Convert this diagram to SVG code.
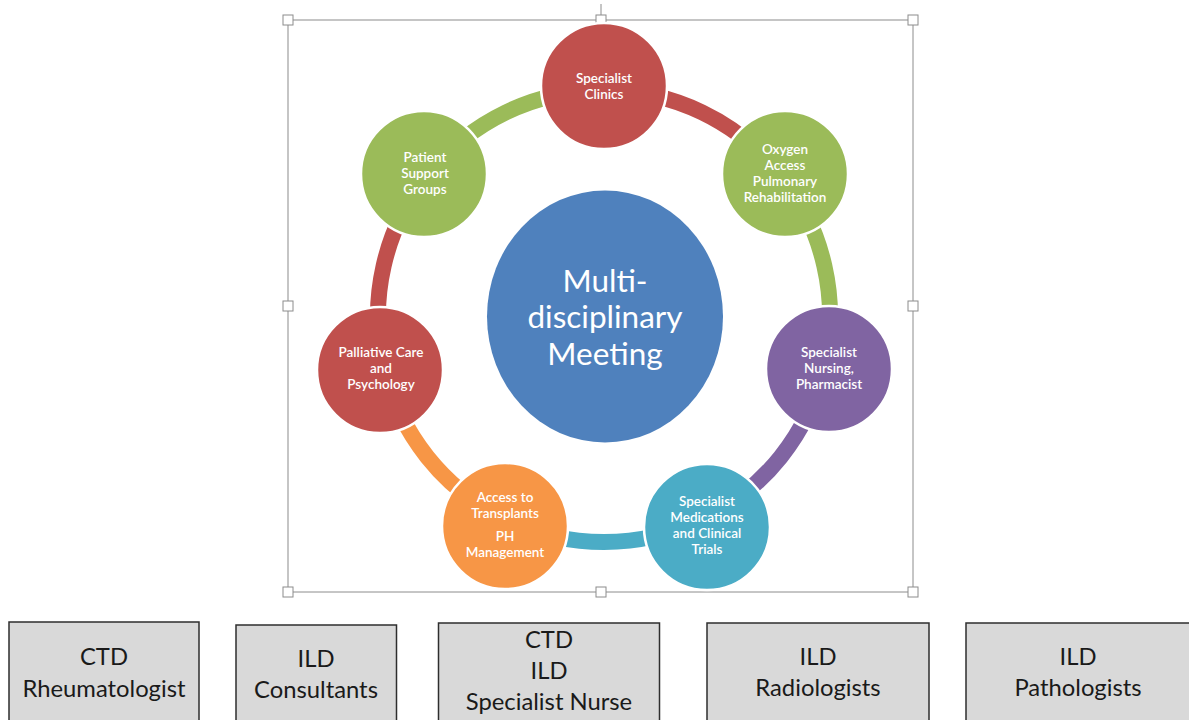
<svg xmlns="http://www.w3.org/2000/svg" width="1189" height="720" viewBox="0 0 1189 720">
<style>
.arc{fill:none;stroke-width:16;stroke-linecap:butt}
.node{stroke:#ffffff;stroke-width:2.5}
.nt{font-family:Lato,"Open Sans","Liberation Sans",sans-serif;font-size:13.5px;font-weight:600;fill:#ffffff;text-anchor:middle}
.ct{font-family:Lato,"Open Sans","Liberation Sans",sans-serif;font-size:31.5px;fill:#ffffff;text-anchor:middle}
.box{fill:#d9d9d9;stroke:#2e2e2e;stroke-width:1.5}
.bt{font-family:Lato,"Open Sans","Liberation Sans",sans-serif;font-size:23.8px;fill:#1a1a1a;text-anchor:middle}
.frame{fill:none;stroke:#8c8c8c;stroke-width:1}
.handle{fill:#ffffff;stroke:#8c8c8c;stroke-width:1}
</style>
<rect width="1189" height="720" fill="#ffffff"/>
<g id="frame">
<line x1="601" y1="4" x2="601" y2="15" stroke="#8c8c8c" stroke-width="1"/>
<rect class="frame" x="288" y="20" width="625" height="572"/>
<rect class="handle" x="283" y="15" width="10" height="10"/>
<rect class="handle" x="596" y="15" width="10" height="10"/>
<rect class="handle" x="908" y="15" width="10" height="10"/>
<rect class="handle" x="283" y="301" width="10" height="10"/>
<rect class="handle" x="908" y="301" width="10" height="10"/>
<rect class="handle" x="283" y="587" width="10" height="10"/>
<rect class="handle" x="596" y="587" width="10" height="10"/>
<rect class="handle" x="908" y="587" width="10" height="10"/>
</g>
<g id="connectors">
<path class="arc" stroke="#c0504d" d="M604,90 A226,226 0 0 1 780.69,175.09"/>
<path class="arc" stroke="#9bbb59" d="M780.69,175.09 A226,226 0 0 1 824.33,366.29"/>
<path class="arc" stroke="#8064a2" d="M824.33,366.29 A226,226 0 0 1 702.06,519.62"/>
<path class="arc" stroke="#4bacc6" d="M702.06,519.62 A226,226 0 0 1 505.94,519.62"/>
<path class="arc" stroke="#f79646" d="M505.94,519.62 A226,226 0 0 1 383.67,366.29"/>
<path class="arc" stroke="#c0504d" d="M383.67,366.29 A226,226 0 0 1 427.31,175.09"/>
<path class="arc" stroke="#9bbb59" d="M427.31,175.09 A226,226 0 0 1 604,90"/>
</g>
<g id="center">
<ellipse cx="605" cy="316.5" rx="118" ry="126" fill="#4f81bd"/>
<text class="ct" x="605" y="292">Multi-</text>
<text class="ct" x="605" y="328">disciplinary</text>
<text class="ct" x="605" y="365">Meeting</text>
</g>
<g id="specialist-clinics">
<circle class="node" cx="604" cy="86" r="63" fill="#c0504d"/>
<text class="nt" x="604" y="83">Specialist</text>
<text class="nt" x="604" y="99">Clinics</text>
</g>
<g id="oxygen-access">
<circle class="node" cx="785" cy="174" r="63" fill="#9bbb59"/>
<text class="nt" x="785" y="154">Oxygen</text>
<text class="nt" x="785" y="170">Access</text>
<text class="nt" x="785" y="186">Pulmonary</text>
<text class="nt" x="785" y="202">Rehabilitation</text>
</g>
<g id="specialist-nursing">
<circle class="node" cx="829" cy="369" r="63" fill="#8064a2"/>
<text class="nt" x="829" y="357">Specialist</text>
<text class="nt" x="829" y="373">Nursing,</text>
<text class="nt" x="829" y="389">Pharmacist</text>
</g>
<g id="specialist-medications">
<circle class="node" cx="707" cy="527" r="63" fill="#4bacc6"/>
<text class="nt" x="707" y="506">Specialist</text>
<text class="nt" x="707" y="522">Medications</text>
<text class="nt" x="707" y="538">and Clinical</text>
<text class="nt" x="707" y="554">Trials</text>
</g>
<g id="access-transplants">
<circle class="node" cx="505" cy="526" r="63" fill="#f79646"/>
<text class="nt" x="505" y="502">Access to</text>
<text class="nt" x="505" y="518">Transplants</text>
<text class="nt" x="505" y="541">PH</text>
<text class="nt" x="505" y="557">Management</text>
</g>
<g id="palliative-care">
<circle class="node" cx="380" cy="370" r="63" fill="#c0504d"/>
<text class="nt" x="381" y="357">Palliative Care</text>
<text class="nt" x="381" y="373">and</text>
<text class="nt" x="381" y="389">Psychology</text>
</g>
<g id="patient-support">
<circle class="node" cx="424" cy="174" r="63" fill="#9bbb59"/>
<text class="nt" x="425" y="162">Patient</text>
<text class="nt" x="425" y="178">Support</text>
<text class="nt" x="425" y="194">Groups</text>
</g>
<g id="box-ctd-rheumatologist">
<rect class="box" x="9" y="622" width="190" height="102"/>
<text class="bt" x="104" y="665">CTD</text>
<text class="bt" x="104" y="697">Rheumatologist</text>
</g>
<g id="box-ild-consultants">
<rect class="box" x="236" y="625" width="160.5" height="99"/>
<text class="bt" x="316" y="667">ILD</text>
<text class="bt" x="316" y="698">Consultants</text>
</g>
<g id="box-specialist-nurse">
<rect class="box" x="438.5" y="623" width="221" height="101"/>
<text class="bt" x="549" y="648">CTD</text>
<text class="bt" x="549" y="679">ILD</text>
<text class="bt" x="549" y="709.5">Specialist Nurse</text>
</g>
<g id="box-ild-radiologists">
<rect class="box" x="707" y="623" width="222" height="101"/>
<text class="bt" x="818" y="665">ILD</text>
<text class="bt" x="818" y="696">Radiologists</text>
</g>
<g id="box-ild-pathologists">
<rect class="box" x="966" y="623" width="226" height="101"/>
<text class="bt" x="1078" y="665">ILD</text>
<text class="bt" x="1078" y="696">Pathologists</text>
</g>
</svg>
